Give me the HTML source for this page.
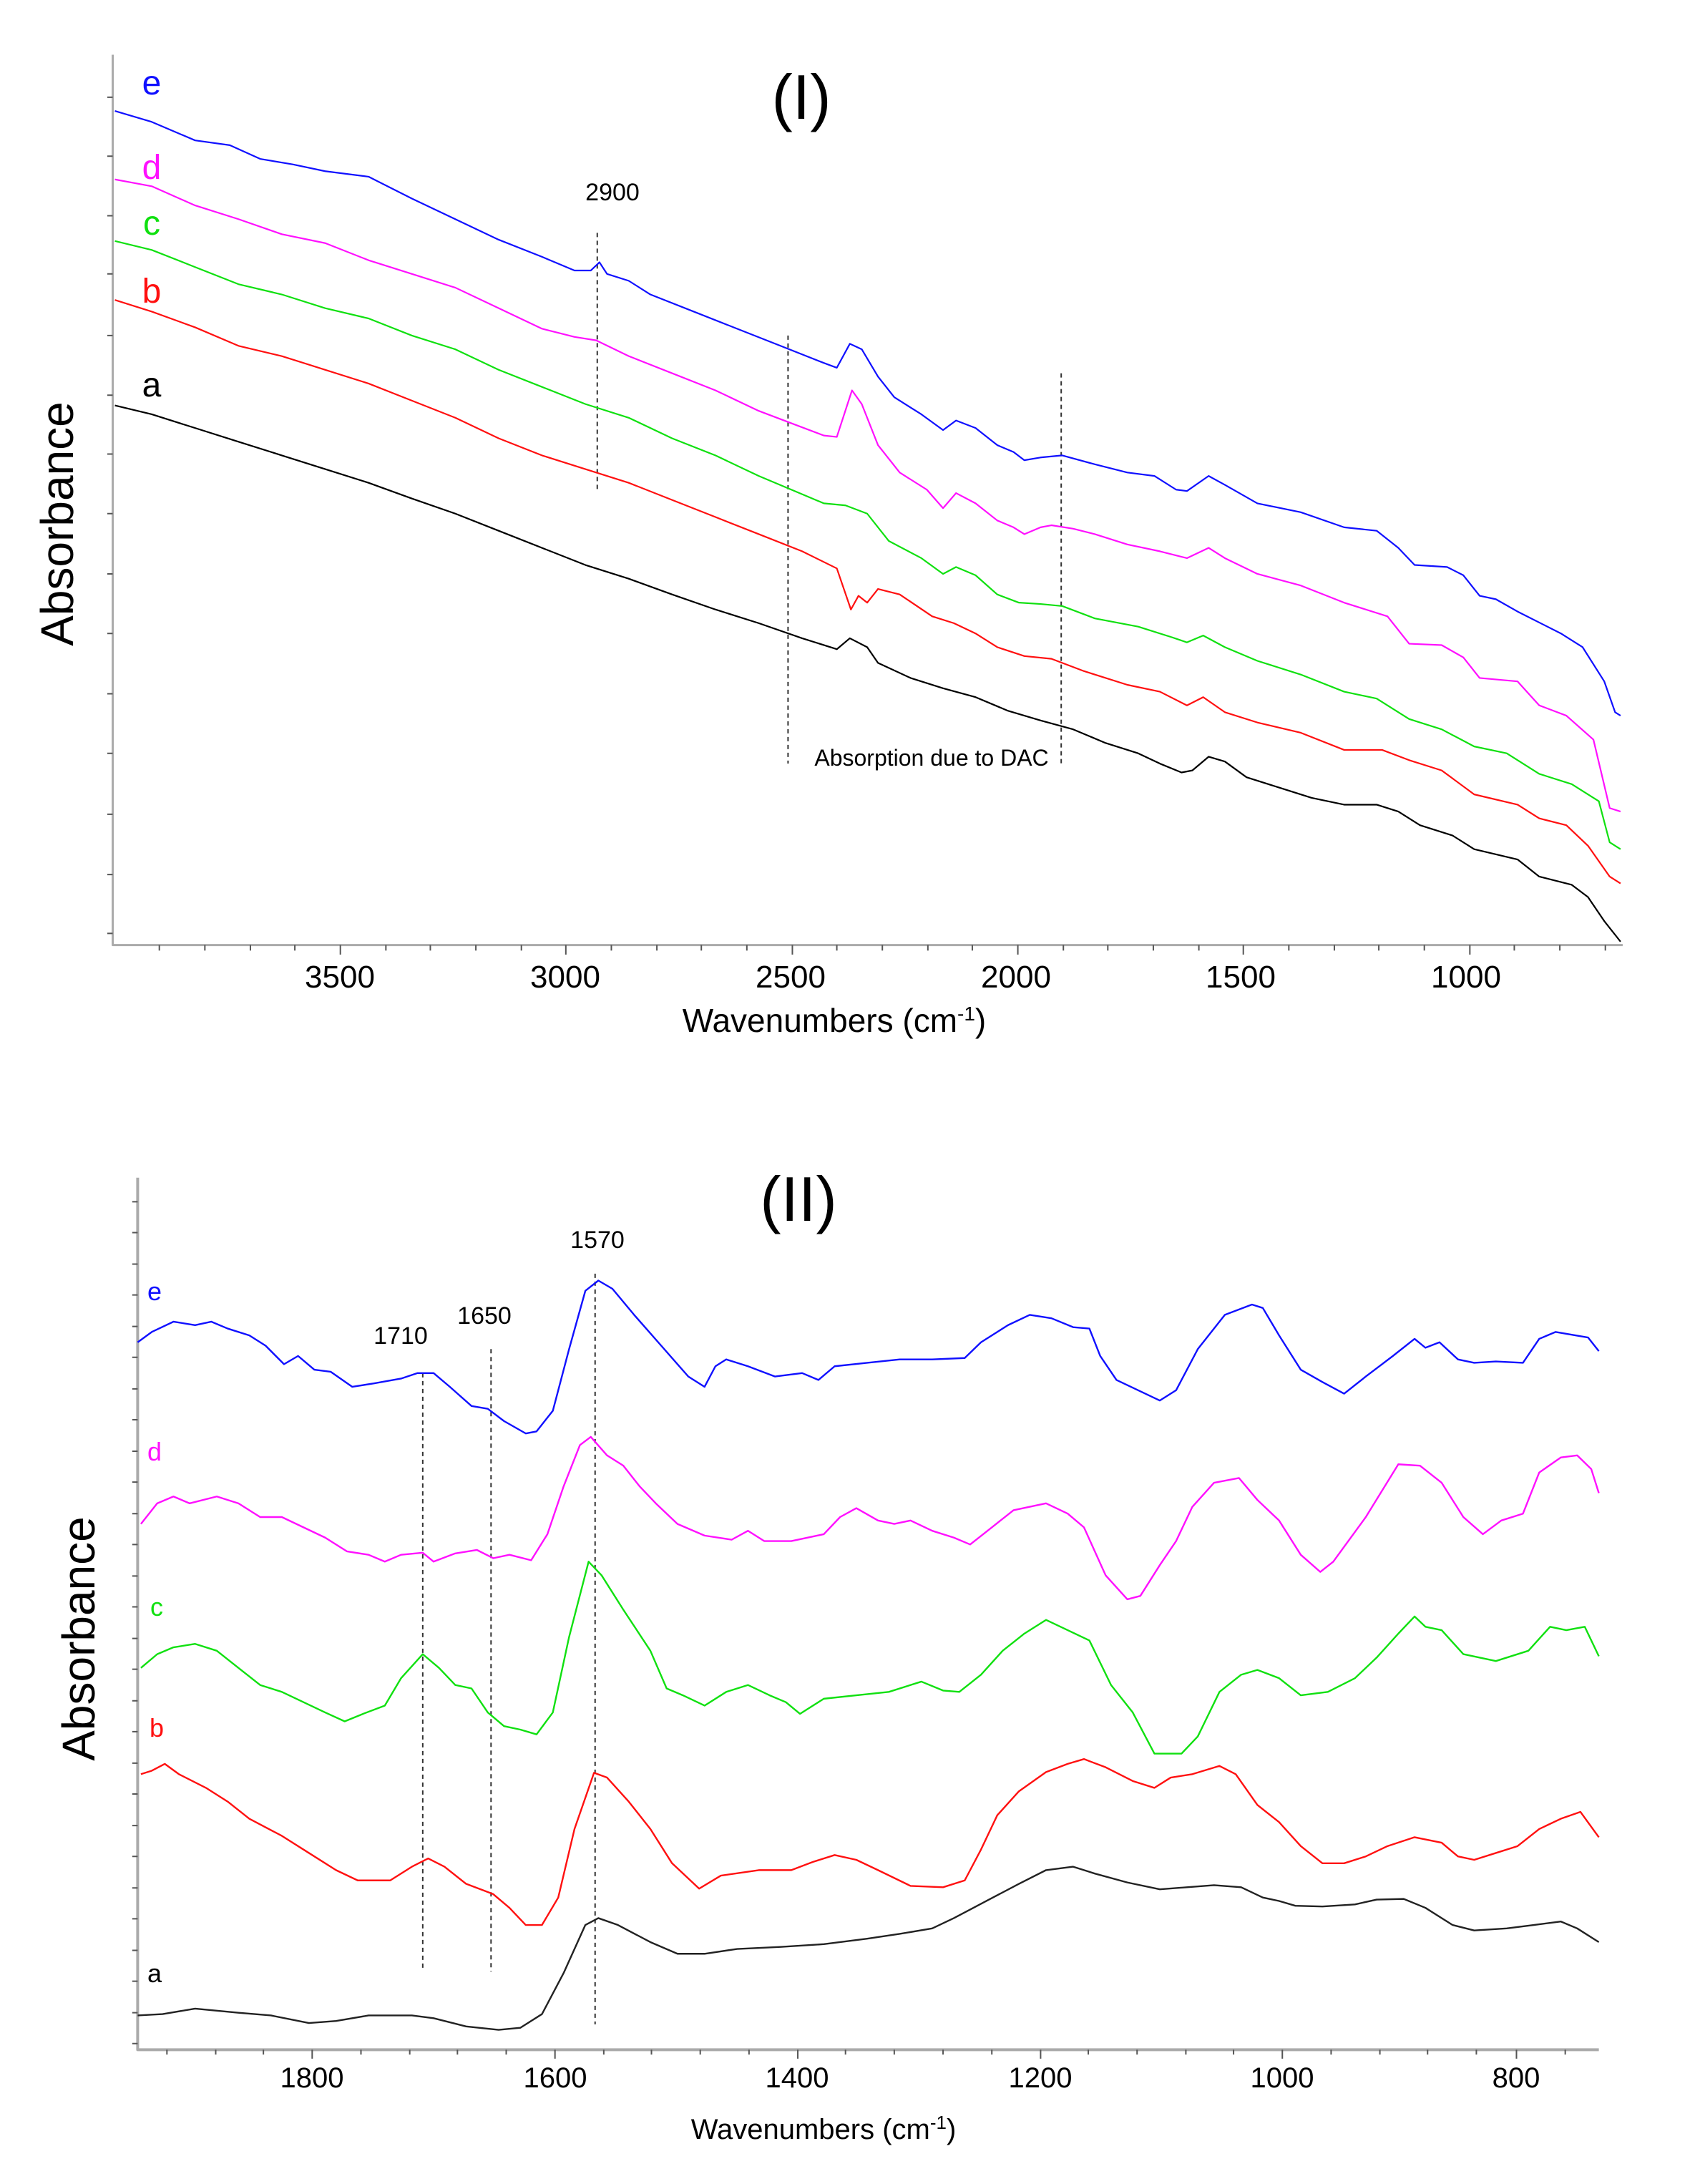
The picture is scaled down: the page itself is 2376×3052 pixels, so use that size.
<!DOCTYPE html>
<html><head><meta charset="utf-8"><style>
html,body{margin:0;padding:0;background:#fff}
svg{display:block}
text{font-family:"Liberation Sans",sans-serif}
</style></head><body>
<svg width="2376" height="3052" viewBox="0 0 2376 3052" xmlns="http://www.w3.org/2000/svg">
<rect width="2376" height="3052" fill="#fff"/>
<!-- PLOT I -->
<g transform="scale(1.515,0.957)" fill="none" stroke-linejoin="round">
<polyline points="104,80 104,1380 1497,1380" stroke="#aaa" stroke-width="3" vector-effect="non-scaling-stroke"/>
<g stroke="#555" stroke-width="2">
<path vector-effect="non-scaling-stroke" d="M99,142h5M99,228h5M99,315h5M99,400h5M99,490h5M99,577h5M99,663h5M99,750h5M99,838h5M99,925h5M99,1013h5M99,1100h5M99,1189h5M99,1277h5M99,1363h5
M147,1380v8M189,1380v8M231,1380v8M272,1380v8M314,1380v14M356,1380v8M397,1380v8M439,1380v8M481,1380v8M522,1380v14M564,1380v8M606,1380v8M647,1380v8M689,1380v8M731,1380v14M772,1380v8M814,1380v8M856,1380v8M897,1380v8M939,1380v14M981,1380v8M1022,1380v8M1064,1380v8M1106,1380v8M1147,1380v14M1189,1380v8M1231,1380v8M1272,1380v8M1314,1380v8M1356,1380v14M1397,1380v8M1439,1380v8M1481,1380v8"/>
</g>
<g stroke="#333" stroke-width="2" stroke-dasharray="6,5">
<path vector-effect="non-scaling-stroke" d="M551,340V715M727,490V1115M979,545V1115"/>
</g>
<g stroke-width="2.2">
<polyline vector-effect="non-scaling-stroke" stroke="#1010ff" points="106,162 140,178 180,205 212,212 240,232 270,240 300,250 340,258 380,290 420,320 460,350 500,375 530,395 545,395 553,383 560,400 580,410 600,430 640,455 680,480 720,505 760,530 772,537 784,502 795,510 810,550 825,580 850,605 870,628 882,614 900,625 920,650 935,660 945,672 960,668 980,665 1010,678 1040,690 1065,695 1085,715 1095,717 1115,695 1130,708 1160,735 1200,748 1240,770 1270,775 1290,800 1305,825 1335,828 1350,840 1365,870 1380,875 1400,893 1440,925 1460,945 1480,995 1490,1040 1495,1045"/>
<polyline vector-effect="non-scaling-stroke" stroke="#ff10ff" points="106,262 140,272 180,300 220,320 260,342 300,355 340,380 380,400 420,420 460,450 500,480 530,492 550,497 580,520 620,545 660,570 700,600 730,618 760,636 772,638 786,570 795,590 810,650 830,690 855,715 870,742 882,720 900,735 920,760 935,770 945,780 960,770 970,767 990,772 1010,780 1040,795 1070,805 1095,815 1115,800 1130,815 1160,838 1200,855 1240,880 1280,900 1300,940 1330,942 1350,960 1365,990 1400,995 1420,1030 1445,1045 1470,1080 1485,1180 1495,1185"/>
<polyline vector-effect="non-scaling-stroke" stroke="#10e010" points="106,352 140,365 180,390 220,415 260,430 300,450 340,465 380,490 420,510 460,540 500,565 540,590 580,610 620,640 660,665 700,695 730,715 760,735 780,738 800,750 820,790 850,815 870,838 882,828 900,840 920,868 940,880 960,882 980,885 1010,903 1050,915 1080,930 1095,938 1110,928 1130,945 1160,965 1200,985 1240,1010 1270,1020 1300,1050 1330,1065 1360,1090 1390,1100 1420,1130 1450,1145 1475,1170 1485,1230 1495,1240"/>
<polyline vector-effect="non-scaling-stroke" stroke="#ff1010" points="106,438 140,455 180,478 220,505 260,520 300,540 340,560 380,585 420,610 460,640 500,665 540,685 580,705 620,730 660,755 700,780 740,805 772,830 785,890 792,870 800,880 810,860 830,868 860,900 880,910 900,925 920,945 945,958 970,962 1000,980 1040,1000 1070,1010 1095,1030 1110,1018 1130,1040 1160,1055 1200,1070 1240,1095 1275,1095 1300,1110 1330,1125 1360,1160 1400,1175 1420,1195 1445,1205 1465,1235 1485,1280 1495,1290"/>
<polyline vector-effect="non-scaling-stroke" stroke="#000" points="106,592 140,605 180,625 220,645 260,665 300,685 340,705 380,728 420,750 460,775 500,800 540,825 580,845 620,868 660,890 700,910 740,932 772,948 784,932 800,945 810,968 840,990 870,1005 900,1018 930,1038 960,1052 990,1065 1020,1085 1050,1100 1070,1115 1090,1128 1100,1125 1115,1105 1130,1112 1150,1135 1180,1150 1210,1165 1240,1175 1270,1175 1290,1185 1310,1205 1340,1220 1360,1240 1400,1255 1420,1280 1450,1292 1465,1310 1480,1345 1495,1375"/>
</g>
</g>
<g font-size="44" text-anchor="middle" fill="#000">
<text x="475" y="1380">3500</text><text x="790" y="1380">3000</text><text x="1105" y="1380">2500</text><text x="1420" y="1380">2000</text><text x="1734" y="1380">1500</text><text x="2049" y="1380">1000</text>
<text x="1166" y="1442" font-size="46">Wavenumbers (cm<tspan dy="-16" font-size="28">-1</tspan><tspan dy="16">)</tspan></text>
<text x="1120" y="166" font-size="88">(I)</text>
<text x="856" y="280" font-size="34">2900</text>
<text x="1302" y="1070" font-size="32">Absorption due to DAC</text>
<text transform="translate(102,732) rotate(-90)" font-size="64">Absorbance</text>
</g>
<g font-size="48" text-anchor="middle">
<text x="212" y="132" fill="#1010ff">e</text>
<text x="212" y="250" fill="#ff10ff">d</text>
<text x="212" y="328" fill="#10e010">c</text>
<text x="212" y="423" fill="#ff1010">b</text>
<text x="212" y="554" fill="#000">a</text>
</g>

<!-- PLOT II -->
<g transform="translate(0,1550) scale(1.515,0.958)" fill="none" stroke-linejoin="round">
<polyline points="127,100 127,1372 1475,1372" stroke="#aaa" stroke-width="4" vector-effect="non-scaling-stroke"/>
<g stroke="#555" stroke-width="2">
<path vector-effect="non-scaling-stroke" d="M122,135h5M122,180h5M122,226h5M122,271h5M122,317h5M122,362h5M122,408h5M122,453h5M122,499h5M122,544h5M122,590h5M122,635h5M122,681h5M122,726h5M122,772h5M122,817h5M122,863h5M122,908h5M122,954h5M122,999h5M122,1045h5M122,1090h5M122,1136h5M122,1181h5M122,1227h5M122,1272h5M122,1318h5M122,1363h5
M154,1372v7M199,1372v7M243,1372v7M288,1372v13M333,1372v7M378,1372v7M422,1372v7M467,1372v7M512,1372v13M557,1372v7M601,1372v7M646,1372v7M691,1372v7M736,1372v13M780,1372v7M825,1372v7M870,1372v7M915,1372v7M960,1372v13M1004,1372v7M1049,1372v7M1094,1372v7M1138,1372v7M1183,1372v13M1228,1372v7M1273,1372v7M1317,1372v7M1362,1372v7M1399,1372v13M1444,1372v7"/>
</g>
<g stroke="#333" stroke-width="2" stroke-dasharray="6,5">
<path vector-effect="non-scaling-stroke" d="M390,385V1255M453,350V1258M549,240V1335"/>
</g>
<g stroke-width="2.4">
<polyline vector-effect="non-scaling-stroke" stroke="#1010ff" points="127,340 140,325 160,310 180,315 195,310 210,320 230,330 245,345 262,372 275,360 290,380 305,383 325,405 345,400 370,393 385,385 400,385 415,405 435,433 450,437 465,455 485,473 495,470 510,440 525,350 540,265 552,250 565,262 585,300 610,345 635,390 650,405 660,375 670,365 690,375 715,390 740,385 755,395 770,375 800,370 830,365 860,365 890,363 905,340 930,315 950,300 970,305 990,318 1005,320 1015,360 1030,395 1050,410 1070,425 1085,410 1105,350 1130,300 1155,285 1165,290 1180,330 1200,380 1220,398 1240,415 1260,390 1285,360 1305,335 1315,348 1328,340 1345,365 1360,370 1380,368 1405,370 1420,335 1435,325 1465,333 1475,353"/>
<polyline vector-effect="non-scaling-stroke" stroke="#ff10ff" points="130,605 145,575 160,565 175,575 200,565 220,575 240,595 260,595 280,610 300,625 320,645 340,650 355,660 370,650 390,647 400,660 420,648 440,643 455,655 470,650 490,658 505,620 520,550 535,490 545,478 560,505 575,520 590,550 605,575 625,605 650,622 675,628 690,615 705,630 730,630 760,620 775,595 790,582 810,600 825,605 840,600 860,615 880,625 895,635 915,610 935,585 965,575 985,590 1000,610 1020,680 1040,715 1052,710 1070,665 1085,630 1100,580 1120,545 1143,538 1160,570 1180,600 1200,650 1218,675 1230,660 1260,595 1290,518 1310,520 1330,545 1350,595 1368,620 1385,600 1405,590 1420,530 1440,508 1455,505 1468,525 1475,560"/>
<polyline vector-effect="non-scaling-stroke" stroke="#10e010" points="130,815 145,795 160,785 180,780 200,790 220,815 240,840 260,850 280,865 300,880 318,893 335,882 355,870 370,830 390,795 405,815 420,840 435,845 450,880 465,900 480,905 495,912 510,880 525,770 543,660 555,680 575,730 600,790 615,845 630,855 650,870 670,850 690,840 710,855 725,865 738,882 760,860 790,855 820,850 850,835 870,848 885,850 905,825 925,790 945,765 965,745 985,760 1005,775 1025,840 1045,880 1065,940 1090,940 1105,915 1125,850 1145,825 1160,818 1180,830 1200,855 1225,850 1250,830 1270,800 1290,765 1305,740 1315,755 1330,760 1350,795 1380,805 1410,790 1430,755 1445,760 1462,755 1475,798"/>
<polyline vector-effect="non-scaling-stroke" stroke="#ff1010" points="130,970 140,965 152,955 165,970 190,990 210,1010 230,1035 260,1060 285,1085 310,1110 330,1125 360,1125 380,1105 395,1093 410,1105 430,1130 455,1145 470,1165 485,1190 500,1190 515,1150 530,1050 548,968 560,975 580,1010 600,1050 620,1100 645,1137 665,1118 700,1110 730,1110 750,1098 770,1088 790,1095 810,1110 840,1133 870,1135 890,1125 905,1080 920,1030 940,995 965,967 985,955 1000,948 1020,960 1045,980 1065,990 1080,975 1100,970 1125,958 1140,970 1160,1015 1180,1040 1200,1075 1220,1100 1240,1100 1260,1090 1280,1075 1305,1062 1330,1070 1345,1090 1360,1095 1380,1085 1400,1075 1420,1050 1440,1035 1458,1025 1475,1062"/>
<polyline vector-effect="non-scaling-stroke" stroke="#222" points="127,1322 150,1320 180,1312 220,1318 250,1322 285,1333 310,1330 340,1322 380,1322 400,1326 430,1338 460,1343 480,1340 500,1320 520,1260 540,1190 552,1180 570,1190 600,1215 625,1232 650,1232 680,1225 720,1222 760,1218 800,1210 830,1203 860,1195 880,1180 910,1155 940,1130 965,1110 990,1105 1010,1115 1040,1128 1070,1138 1095,1135 1120,1132 1145,1135 1165,1150 1180,1155 1195,1162 1220,1163 1250,1160 1270,1153 1295,1152 1315,1165 1340,1190 1360,1198 1390,1195 1415,1190 1440,1185 1455,1195 1475,1215"/>
</g>
</g>
<g font-size="40" text-anchor="middle" fill="#000">
<text x="436" y="2917">1800</text><text x="776" y="2917">1600</text><text x="1114" y="2917">1400</text><text x="1454" y="2917">1200</text><text x="1792" y="2917">1000</text><text x="2119" y="2917">800</text>
<text x="1151" y="2989">Wavenumbers (cm<tspan dy="-14" font-size="26">-1</tspan><tspan dy="14">)</tspan></text>
<text x="1116" y="1706" font-size="88">(II)</text>
<text x="835" y="1744" font-size="34">1570</text>
<text x="560" y="1878" font-size="34">1710</text>
<text x="677" y="1850" font-size="34">1650</text>
<text transform="translate(132,2290) rotate(-90)" font-size="64">Absorbance</text>
</g>
<g font-size="36" text-anchor="middle">
<text x="216" y="1817" fill="#1010ff">e</text>
<text x="216" y="2041" fill="#ff10ff">d</text>
<text x="219" y="2258" fill="#10e010">c</text>
<text x="219" y="2427" fill="#ff1010">b</text>
<text x="216" y="2770" fill="#000">a</text>
</g>
</svg>
</body></html>
